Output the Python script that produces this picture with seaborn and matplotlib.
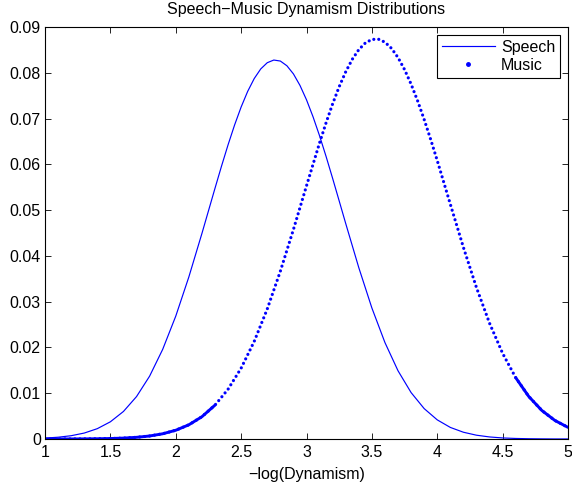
import numpy as np
import pandas as pd
import matplotlib
matplotlib.use("Agg")
import matplotlib.pyplot as plt
from matplotlib.lines import Line2D
import seaborn as sns

# values (finer steps around the peaks)
speech_x = [1.0, 1.1, 1.2, 1.3, 1.4, 1.5, 1.6, 1.7, 1.8, 1.9,
            2.0, 2.1, 2.2, 2.3, 2.35, 2.4, 2.45, 2.5, 2.55, 2.6,
            2.65, 2.7, 2.75, 2.8, 2.85, 2.9, 2.95, 3.0, 3.05, 3.1,
            3.15, 3.2, 3.25, 3.3, 3.4, 3.5, 3.6, 3.7, 3.8, 3.9,
            4.0, 4.1, 4.2, 4.3, 4.4, 4.5, 4.6, 4.7, 4.8, 4.9, 5.0]
speech_y = [0.00020, 0.00039, 0.00072, 0.00130, 0.00226, 0.00376, 0.00602, 0.00927, 0.01373, 0.01958,
            0.02684, 0.03539, 0.04489, 0.05476, 0.05961, 0.06426, 0.06860, 0.07252, 0.07593, 0.07873,
            0.08084, 0.08220, 0.08278, 0.08256, 0.08153, 0.07975, 0.07724, 0.07409, 0.07038, 0.06622,
            0.06169, 0.05691, 0.05200, 0.04706, 0.03742, 0.02862, 0.02106, 0.01490, 0.01014, 0.00664,
            0.00418, 0.00253, 0.00148, 0.00083, 0.00045, 0.00023, 0.00012, 0.00006, 0.00003, 0.00001, 0.00001]

music_x = [1.0, 1.1, 1.2, 1.3, 1.4, 1.5, 1.6, 1.7, 1.8, 1.9,
           2.0, 2.1, 2.2, 2.3, 2.4, 2.5, 2.6, 2.7, 2.8, 2.9,
           3.0, 3.1, 3.15, 3.2, 3.25, 3.3, 3.35, 3.4, 3.45, 3.5,
           3.55, 3.6, 3.65, 3.7, 3.75, 3.8, 3.85, 3.9, 3.95, 4.0,
           4.1, 4.2, 4.3, 4.4, 4.5, 4.6, 4.7, 4.8, 4.9, 5.0]
music_y = [0.000003, 0.000006, 0.000012, 0.000026, 0.000053, 0.000104, 0.000199, 0.000368, 0.000659, 0.001141,
           0.001912, 0.003102, 0.004867, 0.007396, 0.010875, 0.015476, 0.021316, 0.028415, 0.036657, 0.045771,
           0.055308, 0.064691, 0.069106, 0.073225, 0.076956, 0.080218, 0.082939, 0.085054, 0.086513, 0.087280,
           0.087337, 0.086682, 0.085333, 0.083320, 0.080692, 0.077511, 0.073849, 0.069788, 0.065413, 0.060816,
           0.051286, 0.041860, 0.033069, 0.025283, 0.018707, 0.013398, 0.009286, 0.006230, 0.004045, 0.002542]

x_ticks = [1, 1.5, 2, 2.5, 3, 3.5, 4, 4.5, 5]
x_ticklabels = ['1', '1.5', '2', '2.5', '3', '3.5', '4', '4.5', '5']
y_ticks = [0, 0.01, 0.02, 0.03, 0.04, 0.05, 0.06, 0.07, 0.08, 0.09]
y_ticklabels = ['0', '0.01', '0.02', '0.03', '0.04', '0.05', '0.06', '0.07', '0.08', '0.09']

plt.rcParams['font.family'] = ['Liberation Sans', 'DejaVu Sans']
fs = 11.5
blue = '#0000ff'

sp = pd.DataFrame({'x': speech_x, 'y': speech_y})
mu = pd.DataFrame({'x': music_x, 'y': music_y})

fig = plt.figure(figsize=(5.72, 4.88), dpi=100)
ax = fig.add_axes([0.0787, 0.1004, 0.9143, 0.8443])

sns.lineplot(data=sp, x='x', y='y', color=blue, linewidth=0.85, ax=ax)

# music: dense dots -> dotted line, the flat tails where dots merge drawn solid
sns.lineplot(data=mu, x='x', y='y', color=blue, linewidth=2.3, ax=ax)
mline = ax.lines[-1]
mline.set_linestyle((0, (0.01, 1.55)))
mline.set_dash_capstyle('round')
sns.lineplot(data=mu[mu.x <= 2.3], x='x', y='y', color=blue, linewidth=2.1,
             solid_capstyle='round', ax=ax)
sns.lineplot(data=mu[mu.x >= 4.6], x='x', y='y', color=blue, linewidth=2.1,
             solid_capstyle='round', ax=ax)

ax.set_xlim(1, 5)
ax.set_ylim(0, 0.09)
ax.set_xticks(x_ticks)
ax.set_xticklabels(x_ticklabels)
ax.set_yticks(y_ticks)
ax.set_yticklabels(y_ticklabels)
ax.tick_params(direction='in', top=True, right=True, length=4, width=0.6, labelsize=fs)
ax.tick_params(axis='x', pad=4.5)
ax.tick_params(axis='y', pad=3)
for s in ax.spines.values():
    s.set_linewidth(0.8)
    s.set_zorder(5)

ax.set_xlabel('\u2212log(Dynamism)', fontsize=fs, labelpad=5)
ax.set_ylabel('')
ax.set_title('Speech\u2212Music Dynamism Distributions', fontsize=fs, pad=9)

handles = [Line2D([], [], color=blue, linewidth=0.85),
           Line2D([], [], color=blue, marker='.', linestyle='none', markersize=5)]
leg = ax.legend(handles, ['Speech', 'Music'], loc='upper right', fancybox=False,
                edgecolor='black', framealpha=1, handlelength=3.3, handletextpad=0.4,
                borderaxespad=0.5, borderpad=0.3, labelspacing=0.2, fontsize=fs)
leg.get_frame().set_linewidth(0.8)

plt.savefig('out.png', dpi=100)
